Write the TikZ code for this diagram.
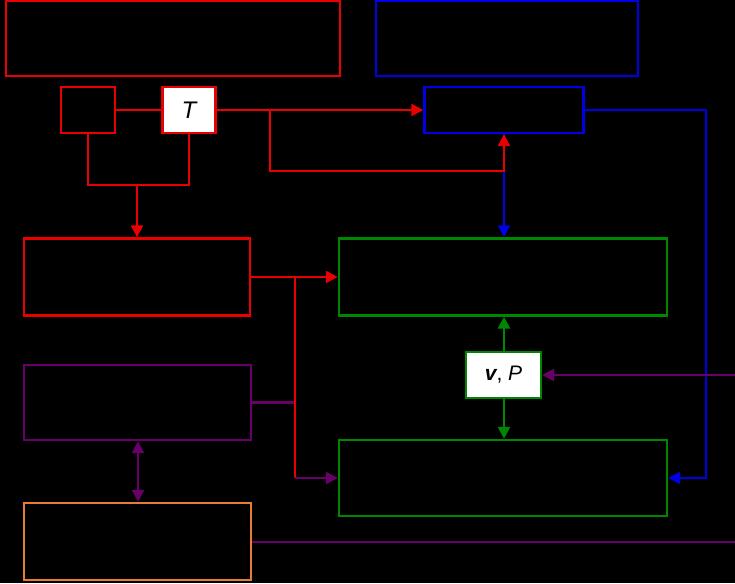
\documentclass[tikz,border=0pt]{standalone}
\usepackage{fontspec}
\setmainfont{Liberation Sans}
\usetikzlibrary{arrows.meta,calc}
\definecolor{cred}{RGB}{235,0,0}
\definecolor{cblue}{RGB}{0,0,230}
\definecolor{cgreen}{RGB}{0,135,0}
\definecolor{cpurple}{RGB}{105,0,105}
\definecolor{corange}{RGB}{230,125,50}
\begin{document}
\begin{tikzpicture}[x=1pt,y=-1pt,
  box/.style={draw=#1,line width=2.4pt,fill=black,inner sep=0pt,minimum width=10pt,minimum height=10pt},
  wbox/.style={draw=#1,line width=2.4pt,fill=white,inner sep=0pt},
  conn/.style={line width=2.4pt,draw=#1},
  tip/.style={-{Triangle[length=12pt,width=12pt]}},
  tipboth/.style={{Triangle[length=12pt,width=12pt]}-{Triangle[length=12pt,width=12pt]}}]
\fill[black] (0,0) rectangle (735,583);
\useasboundingbox (0,0) rectangle (735,583);
% boxes
\node[box=cred,minimum width=334pt,minimum height=75pt] (A) at (173,38.5) {};
\node[box=cblue,minimum width=262pt,minimum height=75pt] (B) at (507,38.5) {};
\node[box=cred,minimum width=54pt,minimum height=46pt] (C) at (88,110) {};
\node[wbox=cred,minimum width=53pt,minimum height=46pt,font=\fontsize{24}{28}\selectfont] (T) at (189,110) {\itshape T};
\node[box=cblue,minimum width=159pt,minimum height=46pt] (D) at (504,110) {};
\node[box=cred,minimum width=226pt,minimum height=77pt] (E) at (137,277) {};
\node[box=cgreen,minimum width=328pt,minimum height=77pt] (F) at (503,277) {};
\node[box=cpurple,minimum width=227pt,minimum height=75pt] (G) at (137.5,402.5) {};
\node[wbox=cgreen,minimum width=75pt,minimum height=46pt,font=\fontsize{21}{25}\selectfont] (VP) at (503.5,375) {\textbf{\itshape v}, \itshape P};
\node[box=cgreen,minimum width=328pt,minimum height=76pt] (H) at (503,478) {};
\node[box=corange,minimum width=227pt,minimum height=77pt] (I) at (137.5,541.5) {};
% coordinates
\coordinate (r1) at (735,375);
\coordinate (r2) at (735,542);
\coordinate (j1) at (270,110);
\coordinate (j2) at (137,185);
\coordinate (j3) at (295,277);
\coordinate (j4) at (295,478);
\coordinate (k1) at (504,171);
% connectors
\draw[conn=cred] (C.east) -- (T.west);
\draw[conn=cred,tip] (T.east) -- (D.west);
\draw[conn=cblue,tip] (D.south) -- (D.south |- F.north);
\draw[conn=cred,tip] (j1) |- (k1) -- (D.south);
\draw[conn=cred] (C.south) |- (j2) -| (T.south);
\draw[conn=cred,tip] (j2) -- (E.north -| j2);
\draw[conn=cblue,tip] (D.east) -- (706,110) |- (H.east);
\draw[conn=cpurple] (G.east) -- (G.east -| j4);
\draw[conn=cred,tip] (E.east) -- (F.west |- j3);
\draw[conn=cred] (j3) -- (j4);
\draw[conn=cpurple,tip] (j4) -- (H.west |- j4);
\draw[conn=cgreen,tip] (VP.north -| k1) -- (F.south -| k1);
\draw[conn=cgreen,tip] (VP.south -| k1) -- (H.north -| k1);
\draw[conn=cpurple,tip] (r1) -- (VP.east |- r1);
\draw[conn=cpurple] (I.east |- r2) -- (r2);
\draw[conn=cpurple,tipboth] (G.south -| 138,0) -- (I.north -| 138,0);
\end{tikzpicture}
\end{document}
